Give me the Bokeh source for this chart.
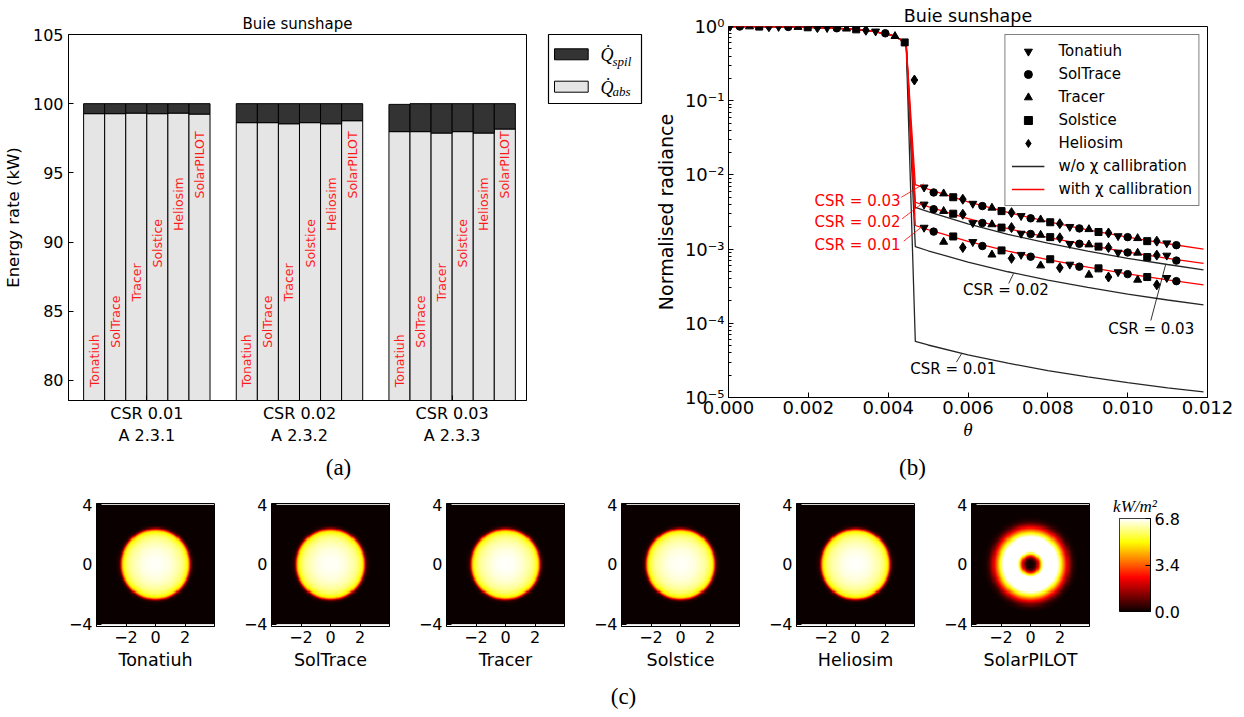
import numpy as np
from bokeh.plotting import figure
from bokeh.models import (Range1d, FixedTicker, Legend, LegendItem,
                          LinearColorMapper, Spacer, NumeralTickFormatter,
                          CustomJSTickFormatter, ColumnDataSource)
from bokeh.layouts import row, column
from bokeh.embed import file_html
from bokeh.resources import INLINE
from bokeh.core.properties import value

SANS = "DejaVu Sans"
SERIF = "Liberation Serif"

# ---------------- (a) energy balance ----------------
groups = ["CSR 0.01\nA 2.3.1", "CSR 0.02\nA 2.3.2", "CSR 0.03\nA 2.3.3"]
tools = ["Tonatiuh", "SolTrace", "Tracer", "Solstice", "Heliosim", "SolarPILOT"]
q_abs_csr001 = [99.28, 99.28, 99.32, 99.28, 99.32, 99.25]
q_spil_csr001 = [0.72, 0.72, 0.68, 0.72, 0.68, 0.75]
q_abs_csr002 = [98.63, 98.63, 98.55, 98.63, 98.55, 98.77]
q_spil_csr002 = [1.37, 1.37, 1.45, 1.37, 1.45, 1.23]
q_abs_csr003 = [97.98, 97.98, 97.88, 97.98, 97.88, 98.17]
q_spil_csr003 = [1.97, 2.02, 2.12, 2.02, 2.12, 1.83]

# ---------------- (b) radiance profiles ----------------
disc_theta = [0.0, 0.0005, 0.001, 0.0015, 0.002, 0.0025, 0.003, 0.0035, 0.004, 0.0042, 0.00445]
disc_radiance = [1.0, 0.998, 0.994, 0.987, 0.975, 0.956, 0.929, 0.881, 0.79, 0.725, 0.60]
far_theta = [0.00468, 0.005, 0.006, 0.007, 0.008, 0.009, 0.010, 0.011, 0.0119]
red_csr001 = [2.08e-3, 1.83e-3, 1.27e-3, 9.4e-4, 7.2e-4, 5.7e-4, 4.64e-4, 3.85e-4, 3.3e-4]
red_csr002 = [4.28e-3, 3.74e-3, 2.58e-3, 1.89e-3, 1.44e-3, 1.13e-3, 9.13e-4, 7.52e-4, 6.4e-4]
red_csr003 = [7.4e-3, 6.42e-3, 4.34e-3, 3.12e-3, 2.34e-3, 1.82e-3, 1.45e-3, 1.18e-3, 1.0e-3]
black_csr001 = [5.7e-5, 5.1e-5, 3.75e-5, 2.9e-5, 2.31e-5, 1.9e-5, 1.59e-5, 1.35e-5, 1.19e-5]
black_csr002 = [1.08e-3, 9.5e-4, 6.67e-4, 4.95e-4, 3.82e-4, 3.04e-4, 2.48e-4, 2.06e-4, 1.77e-4]
black_csr003 = [3.66e-3, 3.19e-3, 2.18e-3, 1.58e-3, 1.2e-3, 9.4e-4, 7.5e-4, 6.2e-4, 5.25e-4]

# ray-tracer samples (disc region shared, then far field for CSR 0.01/0.02/0.03)
tonatiuh_theta_disc = [0.00004, 0.001255, 0.00247, 0.003685]
tonatiuh_disc = [1.0, 0.991, 0.958, 0.86]
tonatiuh_theta = [0.00490, 0.00612, 0.00733, 0.00855, 0.00976, 0.01098]
tonatiuh_csr001 = [1.95e-3, 1.25e-3, 8.4e-4, 6.2e-4, 4.9e-4, 4.1e-4]
tonatiuh_csr002 = [4.0e-3, 2.25e-3, 1.62e-3, 1.18e-3, 9.0e-4, 8.2e-4]
tonatiuh_csr003 = [6.8e-3, 4.1e-3, 2.8e-3, 2.0e-3, 1.5e-3, 1.2e-3]

soltrace_theta_disc = [0.000283, 0.001498, 0.002713, 0.003928]
soltrace_disc = [1.0, 0.987, 0.947, 0.81]
soltrace_theta = [0.00514, 0.00636, 0.00757, 0.00879, 0.01000, 0.01122]
soltrace_csr001 = [1.72e-3, 1.1e-3, 7.9e-4, 5.8e-4, 4.6e-4, 3.7e-4]
soltrace_csr002 = [3.45e-3, 2.25e-3, 1.6e-3, 1.18e-3, 9.0e-4, 7.0e-4]
soltrace_csr003 = [5.8e-3, 3.8e-3, 2.6e-3, 1.9e-3, 1.45e-3, 1.13e-3]

tracer_theta_disc = [0.000526, 0.001741, 0.002956, 0.004171]
tracer_disc = [0.998, 0.982, 0.933, 0.74]
tracer_theta = [0.00539, 0.00660, 0.00782, 0.00903, 0.01025]
tracer_csr001 = [1.25e-3, 8.4e-4, 6.0e-4, 4.5e-4, 3.85e-4]
tracer_csr002 = [3.25e-3, 2.15e-3, 1.55e-3, 1.15e-3, 8.9e-4]
tracer_csr003 = [5.6e-3, 3.6e-3, 2.5e-3, 1.85e-3, 1.4e-3]

solstice_theta_disc = [0.000769, 0.001984, 0.003199, 0.004414]
solstice_disc = [0.997, 0.976, 0.915, 0.61]
solstice_theta = [0.00563, 0.00684, 0.00806, 0.00927, 0.01049]
solstice_csr001 = [1.48e-3, 9.6e-4, 7.3e-4, 5.5e-4, 4.2e-4]
solstice_csr002 = [3.0e-3, 1.95e-3, 1.45e-3, 1.08e-3, 7.8e-4]
solstice_csr003 = [5.0e-3, 3.25e-3, 2.3e-3, 1.7e-3, 1.28e-3]

heliosim_theta_disc = [0.001012, 0.002227, 0.003442, 0.004657]
heliosim_disc = [0.994, 0.968, 0.89, 0.19]
heliosim_theta = [0.00587, 0.00709, 0.00830, 0.00952, 0.01073]
heliosim_csr001 = [1.05e-3, 7.5e-4, 5.6e-4, 4.2e-4, 3.3e-4]
heliosim_csr002 = [2.95e-3, 1.95e-3, 1.42e-3, 1.05e-3, 8.3e-4]
heliosim_csr003 = [4.7e-3, 3.1e-3, 2.2e-3, 1.65e-3, 1.28e-3]

csr_names = ["CSR = 0.01", "CSR = 0.02", "CSR = 0.03"]

# ---------------- (c) flux maps: radial profiles (kW/m2) ----------------
heat_radius = [0.0, 0.5, 1.0, 1.5, 1.8, 2.0, 2.15, 2.25, 2.32, 2.4, 2.5, 2.7, 6.0]
flux_tonatiuh = [6.75, 6.7, 6.55, 6.25, 5.95, 5.55, 5.1, 4.5, 3.3, 1.5, 0.3, 0.0, 0.0]
flux_soltrace = [6.75, 6.7, 6.55, 6.25, 5.95, 5.55, 5.1, 4.5, 3.3, 1.5, 0.3, 0.0, 0.0]
flux_tracer = [6.78, 6.72, 6.56, 6.25, 5.95, 5.55, 5.1, 4.5, 3.3, 1.5, 0.3, 0.0, 0.0]
flux_solstice = [6.75, 6.7, 6.55, 6.25, 5.95, 5.55, 5.1, 4.5, 3.3, 1.5, 0.3, 0.0, 0.0]
flux_heliosim = [6.78, 6.72, 6.56, 6.25, 5.95, 5.55, 5.1, 4.5, 3.3, 1.5, 0.3, 0.0, 0.0]
pilot_radius = [0.0, 0.25, 0.4, 0.55, 0.7, 0.85, 1.0, 1.5, 1.8, 1.95, 2.1, 2.3, 2.5, 2.7, 2.9, 3.2, 6.0]
flux_solarpilot = [0.0, 0.2, 0.9, 2.6, 4.8, 6.6, 7.5, 7.6, 7.0, 6.0, 5.0, 3.6, 2.2, 1.0, 0.3, 0.0, 0.0]
flux_max = 6.8
cbar_ticks = [0.0, 3.4, 6.8]


def style_axis(ax, size, standoff=5):
    ax.major_label_text_font = SANS
    ax.major_label_text_font_size = size
    ax.major_label_text_color = "black"
    ax.major_label_standoff = standoff
    ax.axis_label_text_font = SANS
    ax.axis_label_text_font_style = "normal"
    ax.axis_label_text_color = "black"
    ax.axis_line_color = "black"
    ax.major_tick_line_color = "black"
    ax.minor_tick_line_color = "black"
    ax.major_tick_in = 5
    ax.major_tick_out = 0
    ax.minor_tick_in = 0
    ax.minor_tick_out = 0


def style_title(p, text, size, standoff, font=SANS, style="normal"):
    p.title.text = text
    p.title.align = "center"
    p.title.text_font = font
    p.title.text_font_style = style
    p.title.text_font_size = size
    p.title.text_color = "black"
    p.title.standoff = standoff


def strip(width, height, xs, ys, texts):
    s = figure(width=width, height=height, x_range=Range1d(0, width), y_range=Range1d(height, 0),
               output_backend="svg", toolbar_location=None, min_border=0, frame_align=False,
               x_axis_location=None, y_axis_location=None, outline_line_color=None,
               background_fill_color="white", border_fill_color="white")
    s.grid.visible = False
    s.text(x=xs, y=ys, text=texts, text_align="center", text_baseline="middle",
           text_font=value(SERIF), text_font_size="23px", text_color="black")
    return s


# ================= panel (a) =================
bar_w = 0.138
abs_sets = [q_abs_csr001, q_abs_csr002, q_abs_csr003]
spil_sets = [q_spil_csr001, q_spil_csr002, q_spil_csr003]
xs, a_vals, t_vals, names, ly = [], [], [], [], []
for g in range(len(groups)):
    for i, t in enumerate(tools):
        xs.append(g + (i - 2.5) * bar_w)
        a_vals.append(abs_sets[g][i])
        t_vals.append(abs_sets[g][i] + spil_sets[g][i])
        names.append(t)
        ly.append(81.42 + 2.83 * i)
src_a = ColumnDataSource(dict(x=xs, abs=a_vals, top=t_vals, name=names, ly=ly))

pa = figure(width=545, height=456, x_range=Range1d(-0.513, 2.487), y_range=Range1d(78.55, 105),
            output_backend="svg", toolbar_location=None, frame_align=False,
            min_border_left=59, min_border_right=19, min_border_top=34, min_border_bottom=56,
            background_fill_color="white", border_fill_color="white", outline_line_color="black")
pa.grid.visible = False
pa.vbar(x="x", bottom=0, top="abs", width=bar_w, source=src_a,
        fill_color="#e5e5e5", line_color="black", line_width=1)
pa.vbar(x="x", bottom="abs", top="top", width=bar_w, source=src_a,
        fill_color="#333333", line_color="black", line_width=1)
pa.text(x="x", y="ly", text="name", source=src_a, angle=np.pi / 2, text_align="center",
        text_baseline="middle", text_color="#ff1a1a", text_font=value(SANS), text_font_size="12.5px")
style_axis(pa.yaxis[0], "16px", 5)
pa.yaxis.ticker = FixedTicker(ticks=[80, 85, 90, 95, 100, 105])
pa.yaxis.axis_label = "Energy rate (kW)"
pa.yaxis.axis_label_text_font_size = "16.5px"
pa.yaxis.axis_label_standoff = 7
style_axis(pa.xaxis[0], "16px", 3)
pa.xaxis.ticker = FixedTicker(ticks=[0, 1, 2])
pa.xaxis.formatter = CustomJSTickFormatter(args=dict(labels=groups),
                                           code="return labels[Math.round(tick)];")
style_title(pa, "Buie sunshape", "15px", 3)

# legend of (a) as its own small canvas
pl = figure(width=105, height=456, x_range=Range1d(0, 105), y_range=Range1d(456, 0),
            output_backend="svg", toolbar_location=None, min_border=0, frame_align=False,
            x_axis_location=None, y_axis_location=None, outline_line_color=None,
            background_fill_color="white", border_fill_color="white")
pl.grid.visible = False
pl.quad(left=[3], right=[96], top=[34], bottom=[103], fill_color="white", line_color="black", line_width=1.2)
pl.quad(left=[9, 9], right=[42.7, 42.7], top=[48.3, 80.7], bottom=[59.3, 91.7],
        fill_color=["#333333", "#e5e5e5"], line_color="black", line_width=1)
pl.text(x=[55, 55], y=[54, 87], text=["Q\u0307", "Q\u0307"], text_align="left", text_baseline="middle",
        text_font=value(SERIF), text_font_style="italic", text_font_size="18px", text_color="black")
pl.text(x=[67, 67], y=[61, 91], text=["spil", "abs"], text_align="left", text_baseline="middle",
        text_font=value(SERIF), text_font_style="italic", text_font_size="13px", text_color="black")

# ================= panel (b) =================
pb = figure(width=586, height=456, x_range=Range1d(0, 0.012), y_range=Range1d(1e-5, 1),
            y_axis_type="log", output_backend="svg", toolbar_location=None, frame_align=False,
            min_border_left=78, min_border_right=29, min_border_top=26, min_border_bottom=59,
            background_fill_color="white", border_fill_color="white", outline_line_color="black")
pb.grid.visible = False
line_x = disc_theta + far_theta
black_r = None
for far in (black_csr001, black_csr002, black_csr003):
    black_r = pb.line(line_x, disc_radiance + far, line_color="#262626", line_width=1.3)
red_r = None
for far in (red_csr001, red_csr002, red_csr003):
    red_r = pb.line(line_x, disc_radiance + far, line_color="#ff0000", line_width=1.3)

series = [
    ("Tonatiuh", "inverted_triangle", 8, tonatiuh_theta_disc, tonatiuh_disc, tonatiuh_theta,
     (tonatiuh_csr001, tonatiuh_csr002, tonatiuh_csr003)),
    ("SolTrace", "circle", 7.5, soltrace_theta_disc, soltrace_disc, soltrace_theta,
     (soltrace_csr001, soltrace_csr002, soltrace_csr003)),
    ("Tracer", "triangle", 8, tracer_theta_disc, tracer_disc, tracer_theta,
     (tracer_csr001, tracer_csr002, tracer_csr003)),
    ("Solstice", "square", 7, solstice_theta_disc, solstice_disc, solstice_theta,
     (solstice_csr001, solstice_csr002, solstice_csr003)),
    ("Heliosim", "diamond", 10, heliosim_theta_disc, heliosim_disc, heliosim_theta,
     (heliosim_csr001, heliosim_csr002, heliosim_csr003)),
]
items = []
for name, marker, size, td, vd, tf, fars in series:
    x = list(td) + list(tf) * 3
    y = list(vd) + list(fars[0]) + list(fars[1]) + list(fars[2])
    r = pb.scatter(x, y, marker=marker, size=size, fill_color="black", line_color="black")
    items.append(LegendItem(label=name, renderers=[r]))
items.append(LegendItem(label="w/o \u03c7 callibration", renderers=[black_r]))
items.append(LegendItem(label="with \u03c7 callibration", renderers=[red_r]))
leg = Legend(items=items, location="top_right", margin=8, padding=6, spacing=3,
             glyph_width=33, glyph_height=20, label_height=20, label_standoff=14,
             label_text_font=SANS, label_text_font_size="15px", label_text_color="black",
             border_line_color="black", border_line_width=1.2, background_fill_color="white",
             background_fill_alpha=1)
pb.add_layout(leg)

# annotations: red (with calibration) and black (w/o calibration)
pb.text(x=[0.00431] * 3, y=[1.12e-3, 2.3e-3, 4.5e-3], text=csr_names, text_align="right",
        text_baseline="middle", text_color="#ff0000", text_font=value(SANS), text_font_size="15px")
pb.segment(x0=[0.00439, 0.00435, 0.00433], y0=[1.28e-3, 2.56e-3, 5.0e-3],
           x1=[0.00485, 0.00489, 0.00489], y1=[2.01e-3, 4.28e-3, 7.56e-3],
           line_color="#ff0000", line_width=0.8)
pb.text(x=[0.00563, 0.00695, 0.01059], y=[2.4e-5, 2.77e-4, 8.45e-5], text=csr_names,
        text_align="center", text_baseline="middle", text_color="black",
        text_font=value(SANS), text_font_size="15px")
pb.segment(x0=[0.00571, 0.00702, 0.01058], y0=[3.0e-5, 3.44e-4, 1.09e-4],
           x1=[0.00584, 0.00714, 0.01095], y1=[3.9e-5, 4.68e-4, 6.15e-4],
           line_color="black", line_width=0.8)

log_majors = [1e-5, 1e-4, 1e-3, 1e-2, 1e-1, 1.0]
log_minors = [k * 10.0 ** e for e in range(-5, 0) for k in range(2, 10)]
style_axis(pb.yaxis[0], "18px", 4)
pb.yaxis.ticker = FixedTicker(ticks=log_majors, minor_ticks=log_minors)
pb.yaxis.minor_tick_in = 3
pb.yaxis.formatter = CustomJSTickFormatter(code="""
const sup = {"-": "\u207b", "0": "\u2070", "1": "\u00b9", "2": "\u00b2", "3": "\u00b3",
             "4": "\u2074", "5": "\u2075", "6": "\u2076", "7": "\u2077", "8": "\u2078", "9": "\u2079"};
const e = Math.round(Math.log10(tick));
return "10" + String(e).split("").map(c => sup[c]).join("");
""")
pb.yaxis.axis_label = "Normalised radiance"
pb.yaxis.axis_label_text_font_size = "19px"
pb.yaxis.axis_label_standoff = 5
style_axis(pb.xaxis[0], "18px", 3)
pb.xaxis.ticker = FixedTicker(ticks=[0.0, 0.002, 0.004, 0.006, 0.008, 0.010, 0.012])
pb.xaxis.formatter = NumeralTickFormatter(format="0.000")
pb.xaxis.axis_label = "\u03b8"
pb.xaxis.axis_label_text_font = SERIF
pb.xaxis.axis_label_text_font_style = "italic"
pb.xaxis.axis_label_text_font_size = "19px"
pb.xaxis.axis_label_standoff = 2
style_title(pb, "Buie sunshape", "17.5px", 1)

strip_ab = strip(1236, 24, [338, 912], [11, 11], ["(a)", "(b)"])

# ================= panel (c) =================
xx = np.linspace(0, 1, 256)
r_ch = np.clip(0.0416 + (1 - 0.0416) * xx / 0.365079, 0, 1)
g_ch = np.clip((xx - 0.365079) / (0.746032 - 0.365079), 0, 1)
b_ch = np.clip((xx - 0.746032) / (1 - 0.746032), 0, 1)
hot = ["#%02x%02x%02x" % (int(round(255 * a)), int(round(255 * b)), int(round(255 * c)))
       for a, b, c in zip(r_ch, g_ch, b_ch)]
mapper = LinearColorMapper(palette=hot, low=0, high=flux_max)

npx = 110
cc = np.linspace(-4, 4, npx + 1)
cc = 0.5 * (cc[1:] + cc[:-1])
XX, YY = np.meshgrid(cc, cc)
RR = np.sqrt(XX ** 2 + YY ** 2)

minus_code = "return tick < 0 ? '\u2212' + Math.abs(tick) : String(tick);"
heat_specs = [("Tonatiuh", heat_radius, flux_tonatiuh), ("SolTrace", heat_radius, flux_soltrace),
              ("Tracer", heat_radius, flux_tracer), ("Solstice", heat_radius, flux_solstice),
              ("Heliosim", heat_radius, flux_heliosim), ("SolarPILOT", pilot_radius, flux_solarpilot)]
heat_figs = []
for name, rad, flux in heat_specs:
    img = np.interp(RR, rad, flux)
    p = figure(width=175, height=196, x_range=Range1d(-4, 4), y_range=Range1d(-4.16, 4.09),
               output_backend="svg", toolbar_location=None, frame_align=False,
               min_border_left=46, min_border_right=11, min_border_top=23, min_border_bottom=50,
               background_fill_color="white", border_fill_color="white", outline_line_color="black")
    p.grid.visible = False
    p.image(image=[img], x=-4, y=-4, dw=8, dh=8, color_mapper=mapper)
    style_axis(p.xaxis[0], "16px", 4)
    p.xaxis.ticker = FixedTicker(ticks=[-2, 0, 2])
    p.xaxis.formatter = CustomJSTickFormatter(code=minus_code)
    p.xaxis.axis_label = name
    p.xaxis.axis_label_text_font_size = "17.5px"
    p.xaxis.axis_label_standoff = 4
    style_axis(p.yaxis[0], "16px", 4)
    p.yaxis.ticker = FixedTicker(ticks=[-4, 0, 4])
    p.yaxis.formatter = CustomJSTickFormatter(code=minus_code)
    heat_figs.append(p)

# colour bar
pc = figure(width=90, height=196, x_range=Range1d(0, 1), y_range=Range1d(0, flux_max),
            output_backend="svg", toolbar_location=None, y_axis_location="right", x_axis_location=None,
            frame_align=False,
            min_border_left=19, min_border_right=40, min_border_top=38, min_border_bottom=65,
            background_fill_color="white", border_fill_color="white", outline_line_color="black")
pc.grid.visible = False
grad = np.linspace(0, flux_max, 256).reshape(256, 1)
pc.image(image=[grad], x=0, y=0, dw=1, dh=flux_max, color_mapper=mapper)
style_axis(pc.yaxis[0], "16px", 4)
pc.yaxis.ticker = FixedTicker(ticks=cbar_ticks)
pc.yaxis.formatter = NumeralTickFormatter(format="0.0")
style_title(pc, "kW/m\u00b2", "17px", 6, font=SERIF, style="italic")

strip_c = strip(1236, 34, [623], [20], ["(c)"])

layout = column(row(pa, pl, pb), strip_ab,
                row(Spacer(width=50, height=196), *heat_figs, pc), strip_c)

open("out.html", "w").write(file_html(layout, INLINE))
